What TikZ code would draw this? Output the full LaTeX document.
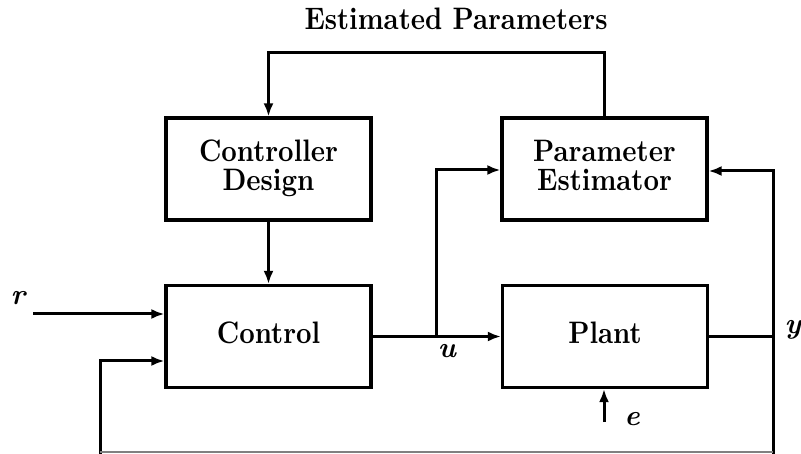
\documentclass[tikz,border=0pt]{standalone}
\usepackage{fontspec}
\usepackage{graphicx}
\newfontfamily\bxfont{lmroman10-bold.otf}
\newfontfamily\bxitfont{lmroman10-bolditalic.otf}
\usetikzlibrary{arrows.meta}
\newcommand{\stx}[1]{\raisebox{-3pt}{\scalebox{1}[1.15]{\begin{tabular}{@{}c@{}}#1\end{tabular}}}}
\begin{document}
\begin{tikzpicture}[x=1pt,y=-1pt,
  blk/.style={draw,line width=3.2pt,minimum width=205pt,minimum height=102pt,inner sep=0pt,align=center,font=\bxfont\fontsize{27}{22}\selectfont},
  wire/.style={line width=3pt},
  arr/.style={wire,-{Latex[length=13pt,width=10pt]}},
  lbl/.style={font=\bxitfont\fontsize{29}{29}\selectfont}]
\useasboundingbox (0,0) rectangle (801,454);
\node[blk] (CD) at (268.5,169) {\stx{Controller\\Design}};
\node[blk] (PE) at (604.5,169) {\stx{Parameter\\Estimator}};
\node[blk] (C) at (268.5,336.5) {\stx{Control}};
\node[blk] (P) at (605,336.5) {\stx{Plant}};
\node[font=\bxfont\fontsize{27}{27}\selectfont,anchor=base] (EP) at (456,30) {\scalebox{1}[1.15]{Estimated Parameters}};
\coordinate (tl) at (268.5,53);
\draw[arr] (PE.north) |- (tl) -- (CD.north);
\draw[arr] (CD.south) -- (C.north);
\coordinate (rin) at (33,314);
\draw[arr] (rin) -- (C.west |- rin);
\node[lbl] (r) at (18,298) {r};
\coordinate (uj) at (436,336.5);
\draw[arr] (C.east) -- (P.west);
\draw[arr] (uj) |- ([yshift=-1pt]PE.west);
\node[lbl] (u) at (447,351) {u};
\coordinate (yj) at (773,336.5);
\coordinate (br) at (773,456);
\coordinate (bl) at (100,456);
\draw[wire] (P.east) -- (yj);
\draw[arr] (yj) |- ([yshift=-2pt]PE.east);
\draw[wire] (yj) -- (br);
\draw[arr] (bl) |- (C.west |- 0,361);
\draw[gray,line width=1.2pt] (100,452) -- (773,452);
\node[lbl,anchor=east,inner sep=0pt] (y) at (801,330) {y};
\coordinate (ein) at (604,422);
\draw[arr] (ein) -- (ein |- P.south);
\node[lbl] (e) at (632,419) {e};
\end{tikzpicture}
\end{document}
